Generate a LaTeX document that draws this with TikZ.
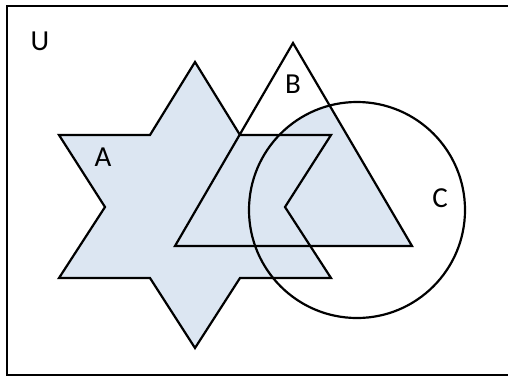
\documentclass[tikz,border=0pt]{standalone}
\usepackage{fontspec}
\setmainfont{Carlito}
\usetikzlibrary{positioning}
\definecolor{setfill}{HTML}{DCE6F2}

\begin{document}
\begin{tikzpicture}[x=1pt,y=-1pt,every node/.style={font=\fontsize{29}{34}\selectfont,inner sep=0pt},setline/.style={line width=2.2pt,line join=miter}]
\clip (0,0) rectangle (508,376);

% sets
\coordinate (cc) at (357,210);
\def\starpath{(195,62) -- (240,135) -- (331,135) -- (285,207) -- (331,278) -- (240,278) -- (195,348) -- (150,278) -- (59,278) -- (105,207) -- (59,135) -- (150,135) -- cycle}
\def\tripath{(293,43) -- (412,246) -- (175,246) -- cycle}

\fill[setfill] \starpath;
\begin{scope}
\clip \tripath;
\fill[setfill] (cc) circle (108);
\end{scope}

\draw[setline] \starpath;
\draw[setline] \tripath;
\draw[setline] (cc) circle (108);

% universe
\draw[line width=2pt] (7,6) rectangle (520,375);

\node (u) at (40,41) {U};
\node (a) at (103,157) {A};
\node (b) at (293,84) {B};
\node (c) at (440,198) {C};
\end{tikzpicture}
\end{document}
